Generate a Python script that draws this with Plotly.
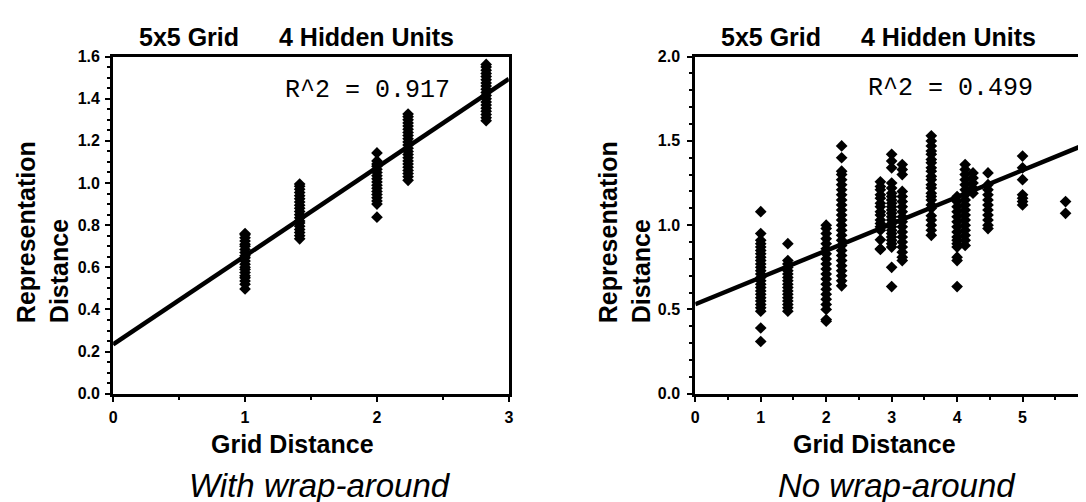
import plotly.graph_objects as go

W, H = 1086, 502
BOLD = "Arial, 'Liberation Sans', Helvetica, sans-serif"
MONO = "'Courier New', 'Liberation Mono', monospace"

# ---------------- data: with wrap-around ----------------
wrap_x = [1.0, 1.414, 2.0, 2.236, 2.828]
wrap_d1 = [0.497, 0.52, 0.535, 0.55, 0.56, 0.575, 0.59, 0.60, 0.615, 0.63, 0.645,
           0.655, 0.67, 0.685, 0.70, 0.71, 0.725, 0.74, 0.755, 0.76]
wrap_d2 = [0.735, 0.75, 0.765, 0.78, 0.795, 0.81, 0.82, 0.835, 0.85, 0.865, 0.88,
           0.895, 0.91, 0.925, 0.94, 0.955, 0.97, 0.985, 0.995]
wrap_d3 = [0.838, 0.90, 0.915, 0.93, 0.945, 0.96, 0.975, 0.99, 1.005, 1.02, 1.035,
           1.05, 1.065, 1.08, 1.09, 1.105, 1.143]
wrap_d4 = [1.013, 1.03, 1.045, 1.06, 1.075, 1.09, 1.105, 1.12, 1.135, 1.15, 1.165,
           1.18, 1.195, 1.21, 1.225, 1.24, 1.255, 1.27, 1.285, 1.30, 1.315, 1.327]
wrap_d5 = [1.296, 1.31, 1.325, 1.34, 1.355, 1.37, 1.385, 1.40, 1.415, 1.43, 1.445,
           1.46, 1.475, 1.49, 1.505, 1.52, 1.535, 1.55, 1.563]
wrap_fit_intercept = 0.234
wrap_fit_slope = 0.42
wrap_r2 = "R^2 = 0.917"

# ---------------- data: no wrap-around ----------------
nowrap_x = [1.0, 1.414, 2.0, 2.236, 2.828, 3.0, 3.162, 3.606, 4.0, 4.123, 4.243,
            4.472, 5.0, 5.657]
nw_d1 = [0.31, 0.39, 0.49, 0.51, 0.53, 0.55, 0.57, 0.59, 0.61, 0.63, 0.65, 0.67, 0.69,
         0.71, 0.73, 0.75, 0.77, 0.79, 0.81, 0.83, 0.85, 0.87, 0.89, 0.91, 0.95, 1.08]
nw_d2 = [0.49, 0.51, 0.53, 0.55, 0.57, 0.59, 0.61, 0.63, 0.65, 0.67, 0.69, 0.71, 0.73,
         0.75, 0.77, 0.79, 0.89]
nw_d3 = [0.43, 0.44, 0.50, 0.53, 0.56, 0.59, 0.62, 0.65, 0.68, 0.71, 0.74, 0.77, 0.80,
         0.83, 0.86, 0.89, 0.92, 0.95, 0.98, 1.00]
nw_d4 = [0.64, 0.67, 0.70, 0.73, 0.76, 0.79, 0.82, 0.85, 0.88, 0.91, 0.94, 0.97, 1.00,
         1.03, 1.06, 1.09, 1.12, 1.15, 1.18, 1.21, 1.24, 1.27, 1.30, 1.32, 1.40, 1.47]
nw_d5 = [0.856, 0.86, 0.913, 0.97, 0.99, 1.01, 1.03, 1.06, 1.08, 1.11, 1.13, 1.16,
         1.18, 1.21, 1.23, 1.257]
nw_d6 = [0.636, 0.75, 0.87, 0.89, 0.91, 0.93, 0.95, 0.97, 0.99, 1.01, 1.03, 1.05, 1.07,
         1.09, 1.11, 1.13, 1.15, 1.17, 1.19, 1.22, 1.25, 1.34, 1.38, 1.42]
nw_d7 = [0.79, 0.81, 0.84, 0.87, 0.90, 0.93, 0.96, 0.99, 1.02, 1.05, 1.08, 1.11, 1.14,
         1.17, 1.20, 1.30, 1.33, 1.36]
nw_d8 = [0.94, 0.97, 1.00, 1.03, 1.056, 1.10, 1.12, 1.15, 1.17, 1.19, 1.22, 1.24, 1.27,
         1.29, 1.32, 1.34, 1.37, 1.39, 1.42, 1.44, 1.47, 1.50, 1.53]
nw_d9 = [0.636, 0.79, 0.81, 0.87, 0.89, 0.91, 0.93, 0.96, 0.99, 1.02, 1.05, 1.08, 1.11,
         1.14, 1.17]
nw_d10 = [0.88, 0.91, 0.94, 0.97, 1.00, 1.03, 1.06, 1.09, 1.12, 1.15, 1.18, 1.21, 1.24,
          1.27, 1.30, 1.33, 1.36]
nw_d11 = [1.19, 1.22, 1.25, 1.28, 1.31]
nw_d12 = [0.98, 1.00, 1.03, 1.06, 1.09, 1.12, 1.15, 1.18, 1.21, 1.24, 1.31]
nw_d13 = [1.12, 1.14, 1.16, 1.18, 1.27, 1.34, 1.41]
nw_d14 = [1.07, 1.14]
nowrap_fit_intercept = 0.531
nowrap_fit_slope = 0.159
nowrap_r2 = "R^2 = 0.499"

title_left = "5x5 Grid"
title_right = "4 Hidden Units"
xlabel = "Grid Distance"
ylabel = "Representation<br>Distance"
caption_wrap = "With wrap-around"
caption_nowrap = "No wrap-around"

wrap_cols = [wrap_d1, wrap_d2, wrap_d3, wrap_d4, wrap_d5]
nowrap_cols = [nw_d1, nw_d2, nw_d3, nw_d4, nw_d5, nw_d6, nw_d7, nw_d8, nw_d9, nw_d10,
               nw_d11, nw_d12, nw_d13, nw_d14]


def flatten(xs, cols):
    X, Y = [], []
    for x, col in zip(xs, cols):
        X += [x] * len(col)
        Y += list(col)
    return X, Y


def px(x):
    return x / W


def py(y):
    return 1 - y / H


fig = go.Figure()
marker = dict(symbol="diamond", size=9, color="black", line=dict(width=0))

wx, wy = flatten(wrap_x, wrap_cols)
fig.add_trace(go.Scatter(x=wx, y=wy, mode="markers", marker=marker,
                         xaxis="x", yaxis="y", showlegend=False))
fig.add_trace(go.Scatter(x=[0, 3], y=[wrap_fit_intercept, wrap_fit_intercept + 3 * wrap_fit_slope],
                         mode="lines", line=dict(color="black", width=4.5),
                         xaxis="x", yaxis="y", showlegend=False))

nx, ny = flatten(nowrap_x, nowrap_cols)
fig.add_trace(go.Scatter(x=nx, y=ny, mode="markers", marker=marker,
                         xaxis="x2", yaxis="y2", showlegend=False))
fig.add_trace(go.Scatter(x=[0, 6], y=[nowrap_fit_intercept, nowrap_fit_intercept + 6 * nowrap_fit_slope],
                         mode="lines", line=dict(color="black", width=4.5),
                         xaxis="x2", yaxis="y2", showlegend=False))

TOP, BOT = 42, 391
L1, R1 = 102, 501
L2, R2 = 689, 1085

tickfont = dict(family=BOLD, size=16, color="black", weight="bold")


def axis(domain, rng, dtick, minor_dtick, fmt=None, anchor=None, standoff=None):
    d = dict(domain=domain, range=rng, dtick=dtick, tick0=0, showline=True,
             linewidth=3, linecolor="black", mirror=True, ticks="outside", ticklen=5,
             tickwidth=2, tickcolor="black", showgrid=False, zeroline=False,
             tickfont=tickfont, fixedrange=True,
             minor=dict(ticks="outside", ticklen=3, tickwidth=2, tickcolor="black",
                        dtick=minor_dtick, tick0=0, showgrid=False))
    if fmt:
        d["tickformat"] = fmt
    if anchor:
        d["anchor"] = anchor
    if standoff is not None:
        d["ticklabelstandoff"] = standoff
    return d


fig.update_layout(
    width=W, height=H, margin=dict(l=0, r=0, t=0, b=0),
    paper_bgcolor="white", plot_bgcolor="white",
    xaxis=axis([px(L1), px(R1)], [0, 3], 1, 0.5, anchor="y", standoff=2),
    yaxis=axis([py(BOT), py(TOP)], [0, 1.6], 0.2, 0.05, fmt=".1f", anchor="x", standoff=2),
    xaxis2=axis([px(L2), px(R2)], [0, 6], 1, 0.5, anchor="y2", standoff=2),
    yaxis2=axis([py(BOT), py(TOP)], [0, 2.0], 0.5, 0.1, fmt=".1f", anchor="x2", standoff=4),
)

ann = []


def text(t, x, y, size, family=BOLD, weight="bold", style="normal", xanchor="center",
         angle=0, align="center"):
    ann.append(dict(text=t, x=px(x), y=py(y), xref="paper", yref="paper",
                    xanchor=xanchor, yanchor="middle", showarrow=False,
                    textangle=angle, align=align,
                    font=dict(family=family, size=size, color="black",
                              weight=weight, style=style)))


for L in (L1, L2):
    text(title_left, L + 24, 22, 25, xanchor="left")
    text(title_right, L + 165, 22, 25, xanchor="left")
    text(xlabel, L + 181, 443, 25)
    text(ylabel, L - 71, 224, 25, angle=-90, align="left")

text(wrap_r2, L1 + 171, 77, 25, family=MONO, weight="normal", xanchor="left")
text(nowrap_r2, L2 + 172, 75, 25, family=MONO, weight="normal", xanchor="left")
text(caption_wrap, 311, 486, 33, weight="normal", style="italic")
text(caption_nowrap, 892, 486, 33, weight="normal", style="italic")

fig.update_layout(annotations=ann)
fig.write_html("out.html")
